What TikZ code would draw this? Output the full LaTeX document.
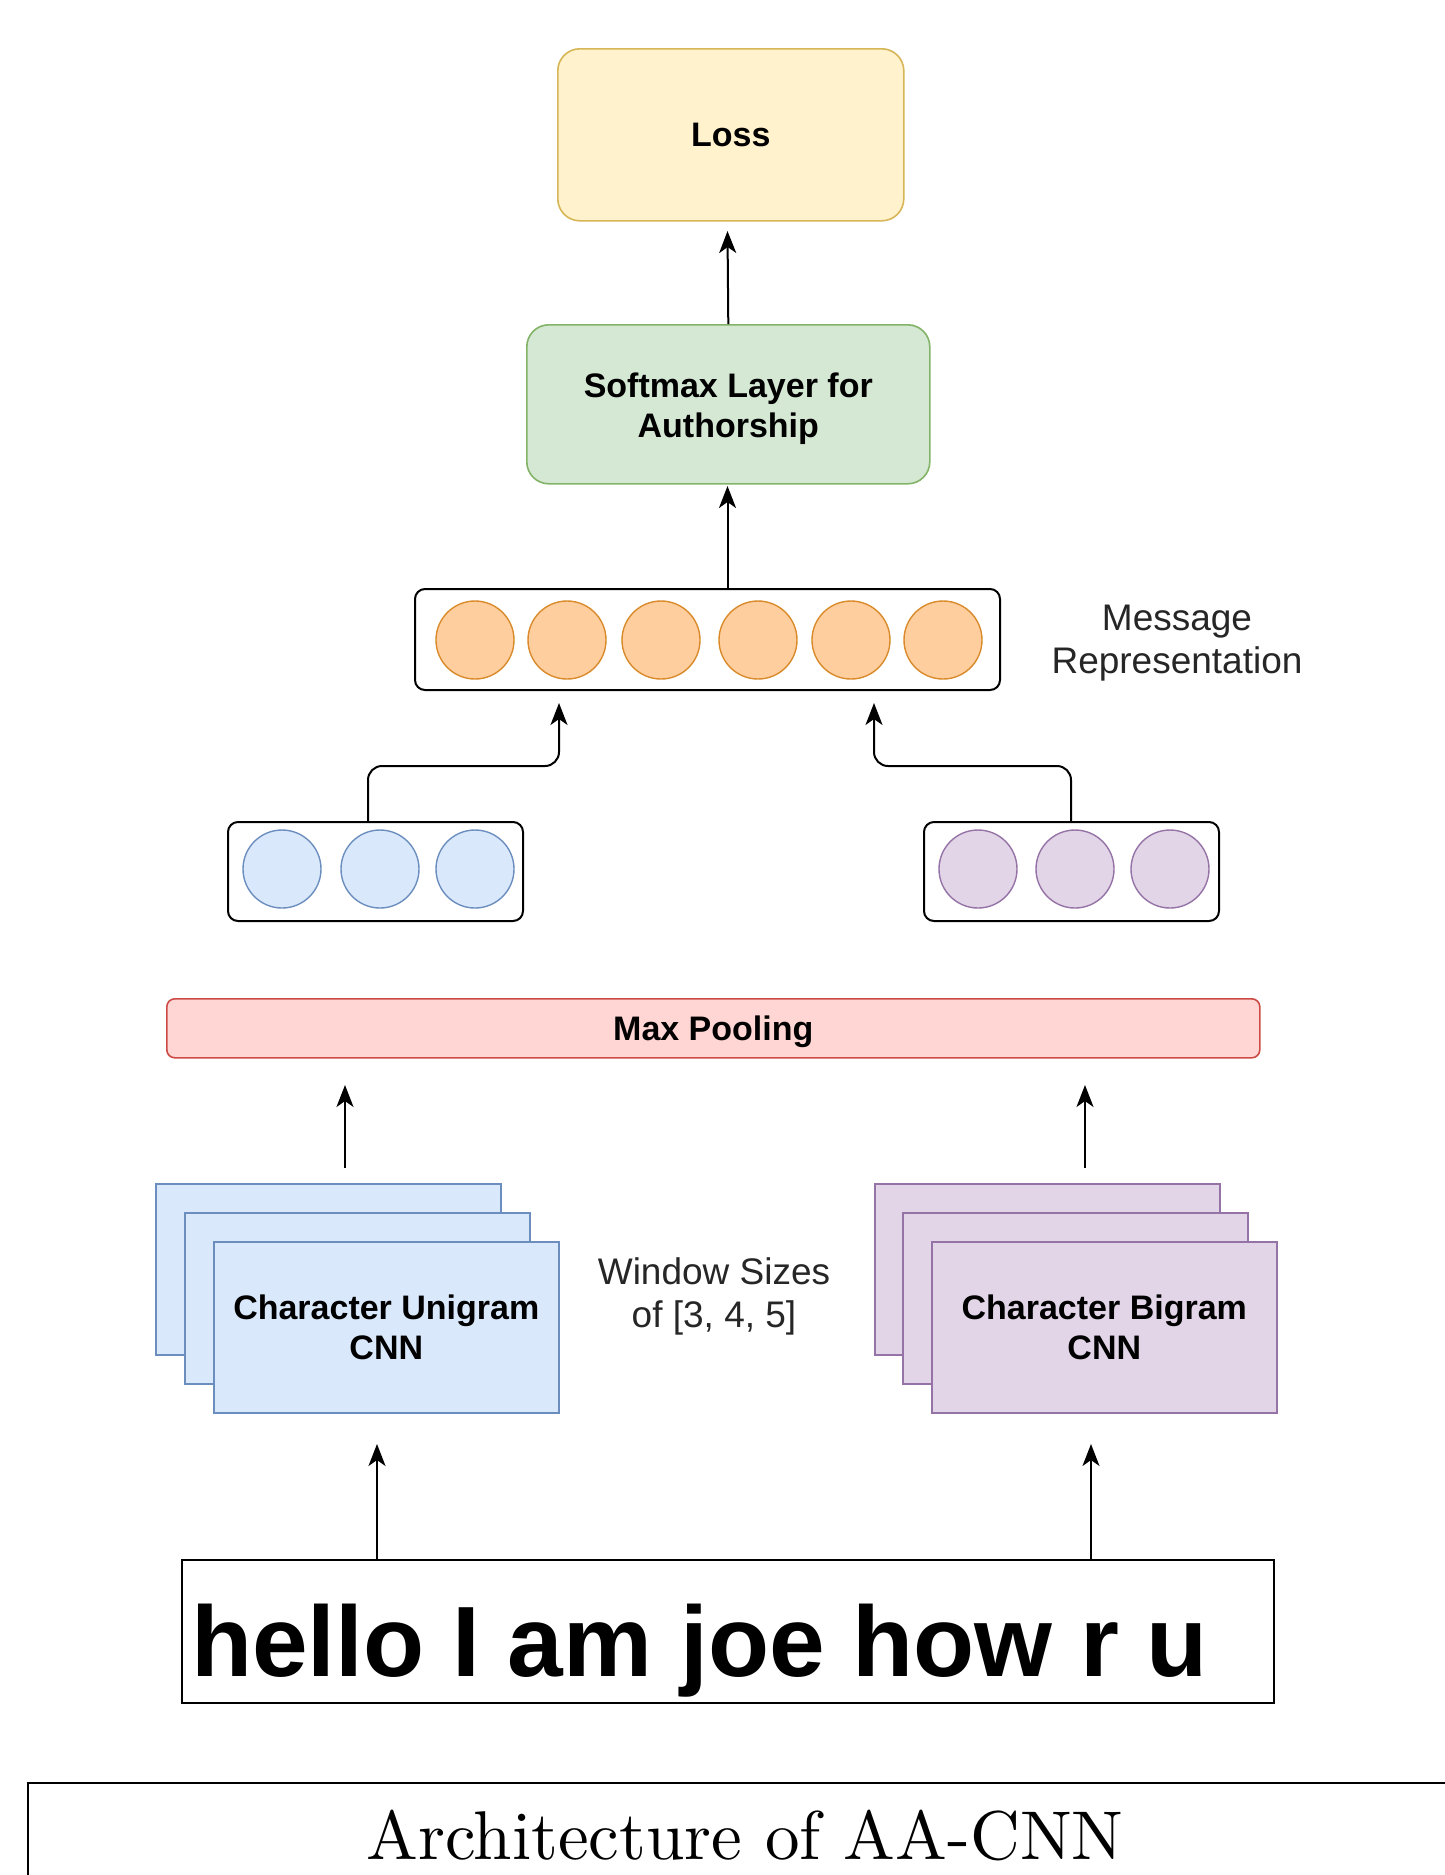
\documentclass[tikz,border=0pt]{standalone}
\usepackage{fontspec}
\newfontfamily\dsans{Liberation Sans}
\newfontfamily\capfont{lmroman10-regular.otf}
\usetikzlibrary{arrows.meta}
\definecolor{lossF}{HTML}{FFF2CC}\definecolor{lossD}{HTML}{D6B656}
\definecolor{softF}{HTML}{D5E8D4}\definecolor{softD}{HTML}{82B366}
\definecolor{poolF}{HTML}{FFD6D4}\definecolor{poolD}{HTML}{CC4B45}
\definecolor{oraF}{HTML}{FFCE9F}\definecolor{oraD}{HTML}{D98B2B}
\definecolor{bluF}{HTML}{DAE8FC}\definecolor{bluD}{HTML}{6C8EBF}
\definecolor{purF}{HTML}{E1D5E7}\definecolor{purD}{HTML}{9673A6}
\begin{document}
\begin{tikzpicture}[x=1pt,y=-1pt,
  boldtxt/.style={font=\dsans\bfseries\fontsize{34}{40}\selectfont, align=center, text=black},
  regtxt/.style={font=\dsans\fontsize{37}{43}\selectfont, align=center, text=black!85},
  box/.style={draw, anchor=north west, inner sep=0pt, line width=1.6pt},
  holder/.style={box, draw=black, line width=2pt, rounded corners=10pt, fill=white},
  neuron/.style={circle, minimum size=78pt, inner sep=0pt, line width=1.4pt},
  arr/.style={line width=2pt, -{Stealth[length=22pt,width=17pt,inset=6pt]}},
]
\useasboundingbox (0,0) rectangle (1444,1875);

% top boxes
\node[box, fill=lossF, draw=lossD, rounded corners=22pt, minimum width=346pt, minimum height=172pt, boldtxt] (loss) at (557,48) {Loss};
\node[box, fill=softF, draw=softD, rounded corners=22pt, minimum width=403pt, minimum height=159pt] (soft) at (526,324) {};
\node[boldtxt] (softtext) at ([yshift=-4pt]soft.center) {Softmax Layer for\\Authorship};

% message representation
\node[holder, minimum width=585pt, minimum height=101pt] (msg) at (414,588) {};
\foreach \i/\x in {1/475,2/567,3/661,4/758,5/851,6/943}
  \node[neuron, fill=oraF, draw=oraD] (o\i) at (\x,640) {};
\node[regtxt] (msglabel) at (1177,643) {Message\\Representation};

% pooled vectors
\node[holder, minimum width=295pt, minimum height=99pt] (blue) at (227,821) {};
\foreach \i/\x in {1/282,2/380,3/475}
  \node[neuron, fill=bluF, draw=bluD] (b\i) at (\x,869) {};
\node[holder, minimum width=295pt, minimum height=99pt] (purple) at (923,821) {};
\foreach \i/\x in {1/978,2/1075,3/1170}
  \node[neuron, fill=purF, draw=purD] (p\i) at (\x,869) {};

% max pooling
\node[box, fill=poolF, draw=poolD, rounded corners=8pt, minimum width=1093pt, minimum height=59pt] (pool) at (166,998) {};
\node[boldtxt] (pooltext) at ([yshift=-3pt]pool.center) {Max Pooling};

% CNN stacks
\node[box, fill=bluF, draw=bluD, minimum width=345pt, minimum height=171pt] (ub3) at (155,1183) {};
\node[box, fill=bluF, draw=bluD, minimum width=345pt, minimum height=171pt] (ub2) at (184,1212) {};
\node[box, fill=bluF, draw=bluD, minimum width=345pt, minimum height=171pt, boldtxt] (ub1) at (213,1241) {Character Unigram\\CNN};
\node[box, fill=purF, draw=purD, minimum width=345pt, minimum height=171pt] (bb3) at (874,1183) {};
\node[box, fill=purF, draw=purD, minimum width=345pt, minimum height=171pt] (bb2) at (902,1212) {};
\node[box, fill=purF, draw=purD, minimum width=345pt, minimum height=171pt, boldtxt] (bb1) at (931,1241) {Character Bigram\\CNN};
\node[regtxt] (win) at (714,1296) {Window Sizes\\of [3, 4, 5]};

% input
\node[box, draw=black, line width=2pt, minimum width=1092pt, minimum height=143pt] (input) at (181,1559) {};
\node[anchor=base west, inner sep=0pt, font=\dsans\bfseries\fontsize{100}{110}\selectfont] (inputtext) at (191,1676) {hello I am joe how r u};

% caption
\draw[line width=2pt] (28,1900) -- (28,1783) -- (1470,1783);
\node[anchor=base, inner sep=0pt, font=\capfont\fontsize{69}{80}\selectfont] (caption) at (745,1859) {Architecture of AA-CNN};

% connector coordinates
\coordinate (tLoss) at (727.5,231);
\coordinate (tSoft) at (727.5,486);
\coordinate (tB) at (559,703);
\coordinate (tP) at (874,703);
\coordinate (sUA) at (345,1168); \coordinate (tUA) at (345,1085);
\coordinate (sBA) at (1085,1168); \coordinate (tBA) at (1085,1085);
\coordinate (tUI) at (377,1444); \coordinate (tBI) at (1091,1444);

% connectors
\draw[arr] (soft.north) -- (tLoss);
\draw[arr] (msg.north -| tSoft) -- (tSoft);
\draw[arr, rounded corners=14pt] ([xshift=141pt]blue.north west) -- ++(0,-55) -| (tB);
\draw[arr, rounded corners=14pt] ([xshift=148pt]purple.north west) -- ++(0,-55) -| (tP);
\draw[arr] (sUA) -- (tUA);
\draw[arr] (sBA) -- (tBA);
\draw[arr] (input.north -| tUI) -- (tUI);
\draw[arr] (input.north -| tBI) -- (tBI);
\end{tikzpicture}
\end{document}
